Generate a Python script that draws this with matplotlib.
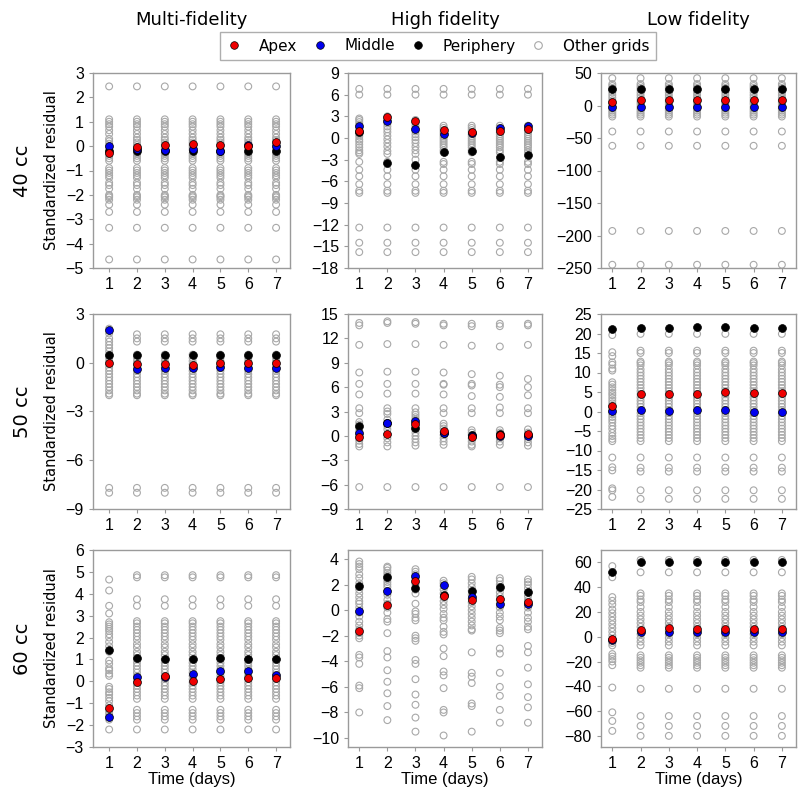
import numpy as np
import matplotlib
matplotlib.use("Agg")
import matplotlib.pyplot as plt
from matplotlib.lines import Line2D

days = [1, 2, 3, 4, 5, 6, 7]
col_titles = ["Multi-fidelity", "High fidelity", "Low fidelity"]
row_labels = ["40 cc", "50 cc", "60 cc"]

# ---------- 40 cc ----------
mf40_other_d1 = [2.45, 1.1, 1.0, 0.9, 0.8, 0.65, 0.5, 0.3, 0.2, 0.1, 0.0, -0.1, -0.2, -0.3, -0.4,
                 -0.5, -0.6, -0.9, -1.0, -1.1, -1.2, -1.3, -1.5, -1.6, -1.75, -2.0, -2.05, -2.1,
                 -2.2, -2.4, -2.7, -3.35, -4.65]
mf40_other = [2.45, 1.1, 1.0, 0.9, 0.8, 0.65, 0.5, 0.35, 0.25, 0.15, 0.05, -0.05, -0.15, -0.3,
              -0.4, -0.5, -0.6, -0.9, -1.0, -1.1, -1.2, -1.3, -1.5, -1.6, -1.75, -2.0, -2.05,
              -2.1, -2.2, -2.4, -2.7, -3.35, -4.65]
mf40_apex = [-0.3, -0.05, 0.05, 0.08, 0.03, 0.02, 0.15]
mf40_middle = [0.0, -0.1, -0.15, -0.1, -0.2, 0.05, 0.0]
mf40_periph = [-0.2, -0.2, -0.2, -0.2, -0.2, -0.2, -0.2]

hf40_other_d1 = [6.8, 6.0, 2.7, 2.5, 2.2, 1.9, 1.5, 1.2, 0.8, 0.5, 0.2, -0.2, -0.5, -0.9, -1.3,
                 -1.7, -2.0, -2.2, -3.3, -4.4, -5.3, -6.4, -7.3, -7.6, -12.4, -14.5, -15.8]
hf40_other_d2 = [6.8, 6.0, 3.0, 2.7, 2.3, 2.0, 1.6, 1.2, 0.8, 0.3, -0.2, -0.7, -1.2, -1.8, -2.2,
                 -3.3, -4.4, -5.3, -6.4, -7.3, -7.6, -12.4, -14.5, -15.8]
hf40_other_d3 = [6.8, 6.0, 2.5, 2.1, 1.7, 1.3, 0.9, 0.5, 0.1, -0.3, -0.7, -1.2, -1.7, -2.2,
                 -3.0, -4.4, -5.3, -6.4, -7.3, -7.6, -12.4, -14.5, -15.8]
hf40_other = [6.8, 6.0, 1.7, 1.4, 1.1, 0.8, 0.5, 0.2, -0.1, -0.4, -0.7, -1.0, -1.3, -1.7, -2.0,
              -3.3, -3.6, -4.4, -5.3, -6.4, -7.3, -7.6, -12.4, -14.5, -15.8]
hf40_apex = [1.0, 2.9, 2.4, 1.1, 0.8, 1.0, 1.3]
hf40_middle = [1.6, 2.4, 1.2, 0.6, 0.7, 1.4, 1.6]
hf40_periph = [0.9, -3.5, -3.8, -2.0, -1.8, -2.6, -2.3]

lf40_other = [42, 33, 30, 27, 24, 20, 16, 12, 8, 5, 2, -2, -5, -8, -11, -14, -17, -40, -62,
              -193, -245]
lf40_apex = [6, 8, 8, 8, 8, 8, 8]
lf40_middle = [-2, -2, -2, -2, -2, -2, -2]
lf40_periph = [26, 26, 26, 26, 26, 26, 26]

# ---------- 50 cc ----------
mf50_other_d1 = [2.1, 1.8, 1.5, 1.3, 1.1, 0.9, 0.7, 0.5, 0.3, 0.1, -0.1, -0.3, -0.5, -0.7, -0.9,
                 -1.1, -1.3, -1.5, -1.7, -1.9, -2.0, -7.7, -8.0]
mf50_other = [1.75, 1.5, 1.3, 0.5, 0.3, 0.1, -0.1, -0.3, -0.5, -0.7, -0.9, -1.1, -1.3, -1.5,
              -1.7, -1.9, -2.0, -7.7, -8.0]
mf50_apex = [0.0, -0.1, -0.1, -0.15, 0.0, 0.0, 0.0]
mf50_middle = [2.0, -0.4, -0.35, -0.3, -0.25, -0.3, -0.3]
mf50_periph = [0.5, 0.5, 0.5, 0.5, 0.5, 0.5, 0.5]

hf50_other_d1 = [13.9, 13.6, 11.2, 7.8, 6.4, 5.1, 3.4, 2.8, 1.7, 1.4, 1.0, 0.6, 0.2, -0.2, -0.6,
                 -1.0, -1.3, -6.3]
hf50_other_d2 = [14.1, 13.9, 11.3, 7.9, 6.4, 5.2, 3.4, 3.0, 2.7, 2.0, 1.6, 1.2, 0.8, 0.2, -0.3,
                 -0.8, -1.3, -6.3]
hf50_other_d3 = [14.0, 13.8, 11.3, 7.9, 6.4, 5.2, 3.4, 2.9, 2.6, 2.3, 2.0, 1.6, 1.2, 0.8, 0.4,
                 0.0, -0.4, -0.8, -1.2, -6.3]
hf50_other_d4 = [13.8, 13.6, 11.2, 7.8, 6.4, 6.3, 5.1, 3.4, 2.8, 1.5, 1.2, 0.9, 0.5, 0.1, -0.3,
                 -0.7, -1.1, -6.3]
hf50_other_d5 = [13.8, 13.5, 11.1, 7.6, 6.4, 6.2, 4.9, 3.4, 2.8, 0.7, 0.4, 0.1, -0.3, -0.7,
                 -1.1, -1.3, -6.3]
hf50_other_d6 = [13.8, 13.5, 11.0, 7.4, 6.3, 6.0, 4.8, 3.5, 2.8, 0.7, 0.4, 0.1, -0.3, -0.7,
                 -1.1, -6.3]
hf50_other_d7 = [13.8, 13.6, 11.2, 7.0, 6.0, 5.0, 3.4, 2.8, 0.8, 0.4, 0.0, -0.4, -0.8, -1.2,
                 -6.3]
hf50_apex = [-0.1, 0.2, 1.5, 0.6, -0.1, 0.1, 0.2]
hf50_middle = [0.4, 1.6, 1.8, 0.4, 0.0, 0.0, 0.0]
hf50_periph = [1.2, 1.6, 1.0, 0.3, 0.1, 0.2, 0.1]

lf50_other_d1 = [19.6, 15.2, 14.2, 12.6, 12.0, 11.0, 10.5, 7.5, 6.9, 6.2, 5.5, 4.8, 4.2, 3.5,
                 2.8, 2.1, 1.4, 0.7, 0.0, -0.7, -1.4, -2.1, -2.8, -3.7, -4.5, -5.5, -6.3, -7.0,
                 -7.6, -11.8, -14.3, -15.1, -19.7, -20.2, -21.9]
lf50_other = [19.9, 15.6, 15.0, 12.8, 12.4, 11.8, 10.8, 10.0, 9.2, 8.4, 7.6, 6.8, 6.0, 5.2, 4.4,
              3.6, 2.8, 2.0, 1.2, 0.4, -0.4, -1.2, -2.0, -2.8, -3.6, -4.4, -5.2, -6.0, -6.8,
              -7.6, -11.8, -14.4, -15.4, -20.2, -22.4]
lf50_apex = [1.5, 4.5, 4.6, 4.5, 4.9, 4.7, 4.7]
lf50_middle = [0.1, 0.3, 0.1, 0.3, 0.3, 0.0, 0.0]
lf50_periph = [21.2, 21.5, 21.3, 21.7, 21.7, 21.5, 21.4]

# ---------- 60 cc ----------
mf60_other_d1 = [4.65, 4.15, 3.45, 3.1, 2.7, 2.6, 2.5, 2.4, 2.3, 2.15, 2.0, 1.8, 1.6, 1.35, 0.95,
                 0.8, 0.6, 0.5, 0.35, 0.25, -0.25, -0.35, -0.5, -0.6, -0.75, -0.9, -1.1, -1.3,
                 -1.4, -1.5, -1.65, -1.75, -2.2]
mf60_other = [4.85, 4.75, 3.75, 3.45, 2.75, 2.65, 2.5, 2.35, 2.2, 2.05, 1.9, 1.7, 1.55, 1.35,
              1.2, 1.0, 0.85, 0.7, 0.55, 0.4, 0.25, 0.1, -0.05, -0.2, -0.35, -0.5, -0.65, -0.8,
              -1.3, -1.45, -1.6, -1.75, -2.2]
mf60_apex = [-1.2, -0.05, 0.25, 0.0, 0.1, 0.15, 0.15]
mf60_middle = [-1.65, 0.2, 0.2, 0.35, 0.45, 0.45, 0.3]
mf60_periph = [1.45, 1.05, 1.03, 1.0, 1.05, 1.0, 1.0]

hf60_other_d1 = [3.8, 3.6, 3.4, 3.2, 2.8, 2.5, 2.1, 1.6, 1.3, 1.0, 0.7, 0.5, 0.2, -0.2, -0.5,
                 -0.9, -1.2, -1.5, -1.8, -2.0, -2.2, -3.5, -3.7, -4.2, -5.9, -6.1, -8.0]
hf60_other_d2 = [3.4, 3.3, 3.1, 2.9, 2.7, 2.4, 2.2, 2.0, 1.8, 1.5, 1.2, 0.8, 0.5, 0.2, -0.2,
                 -0.7, -0.9, -1.8, -3.2, -3.7, -4.7, -5.6, -6.5, -7.5, -8.6]
hf60_other_d3 = [3.2, 3.0, 2.8, 2.5, 2.2, 2.0, 1.6, 1.3, 0.5, -0.1, -0.3, -0.6, -0.8, -2.0, -2.2,
                 -2.4, -3.9, -4.2, -5.4, -6.6, -7.4, -8.4, -9.5]
hf60_other_d4 = [2.3, 2.1, 1.9, 1.6, 1.3, 1.0, 0.7, 0.4, 0.1, -0.3, -0.6, -0.8, -1.3, -1.7, -1.9,
                 -3.0, -3.6, -4.8, -5.1, -6.1, -7.8, -8.0, -9.8]
hf60_other_d5 = [2.6, 2.4, 2.1, 1.8, 1.5, 1.2, 0.9, 0.6, 0.3, 0.0, -0.3, -0.6, -0.9, -1.2, -1.5,
                 -1.6, -3.3, -4.9, -5.2, -5.7, -7.3, -7.5, -9.5]
hf60_other_d6 = [2.5, 2.3, 2.0, 1.7, 1.4, 1.1, 0.8, 0.5, 0.2, -0.2, -0.5, -0.8, -1.4, -1.6, -1.8,
                 -3.0, -3.4, -4.9, -6.0, -6.7, -7.8, -8.8]
hf60_other_d7 = [2.4, 2.2, 2.0, 1.7, 1.4, 1.1, 0.8, 0.5, 0.2, -0.2, -0.6, -0.9, -1.3, -1.5, -2.8,
                 -3.3, -4.5, -5.8, -6.8, -7.6, -8.8]
hf60_apex = [-1.6, 0.4, 2.3, 1.1, 0.8, 0.85, 0.6]
hf60_middle = [-0.05, 1.5, 2.7, 1.95, 1.05, 0.45, 0.5]
hf60_periph = [1.9, 2.6, 1.7, 1.2, 1.5, 1.8, 1.4]

lf60_other_d1 = [57, 48, 32, 29, 26, 22, 19, 16, 13, 10, 7, 4, 1, -2, -5, -7, -14, -16, -18, -20,
                 -23, -41, -61, -68, -76]
lf60_other = [62, 52, 35, 33, 30, 28, 24, 20, 17, 14, 11, 8, 5, 2, -1, -4, -7, -15, -17, -19,
              -21, -23, -25, -42, -64, -72, -80]
lf60_apex = [-2, 5.5, 7, 6.5, 6.5, 6.5, 6.5]
lf60_middle = [-3, 3.5, 3.5, 3.5, 3.5, 3.5, 3.5]
lf60_periph = [52, 60, 60.5, 60.5, 60, 60, 60]

panels = [
    [([mf40_other_d1] + [mf40_other] * 6, mf40_apex, mf40_middle, mf40_periph,
      (-5, 3), np.arange(-5, 4, 1)),
     ([hf40_other_d1, hf40_other_d2, hf40_other_d3] + [hf40_other] * 4,
      hf40_apex, hf40_middle, hf40_periph, (-18, 9), np.arange(-18, 10, 3)),
     ([lf40_other] * 7, lf40_apex, lf40_middle, lf40_periph, (-250, 50),
      np.arange(-250, 51, 50))],
    [([mf50_other_d1] + [mf50_other] * 6, mf50_apex, mf50_middle, mf50_periph,
      (-9, 3), np.arange(-9, 4, 3)),
     ([hf50_other_d1, hf50_other_d2, hf50_other_d3, hf50_other_d4, hf50_other_d5,
       hf50_other_d6, hf50_other_d7], hf50_apex, hf50_middle, hf50_periph,
      (-9, 15), np.arange(-9, 16, 3)),
     ([lf50_other_d1] + [lf50_other] * 6, lf50_apex, lf50_middle, lf50_periph,
      (-25, 25), np.arange(-25, 26, 5))],
    [([mf60_other_d1] + [mf60_other] * 6, mf60_apex, mf60_middle, mf60_periph,
      (-3, 6), np.arange(-3, 7, 1)),
     ([hf60_other_d1, hf60_other_d2, hf60_other_d3, hf60_other_d4, hf60_other_d5,
       hf60_other_d6, hf60_other_d7], hf60_apex, hf60_middle, hf60_periph,
      (-10.7, 4.7), np.arange(-10, 5, 2)),
     ([lf60_other_d1] + [lf60_other] * 6, lf60_apex, lf60_middle, lf60_periph,
      (-89, 70), np.arange(-80, 61, 20))],
]

W, H = 800, 794
fig = plt.figure(figsize=(W / 100, H / 100), dpi=100)

# axes boxes in pixels: (left, right), (top, bottom)
col_px = [(93, 290), (348, 542), (601, 796)]
row_px = [(73, 268), (314, 509), (550, 747)]
col_xlim = [(0.42, 7.5), (0.6, 7.5), (0.6, 7.5)]

tick_font = "Liberation Sans"
spine_col = "#9a9a9a"
gray = "#a8a8a8"

for r in range(3):
    for c in range(3):
        others, apex, middle, periph, ylim, yticks = panels[r][c]
        l, rr = col_px[c]
        t, b = row_px[r]
        ax = fig.add_axes([l / W, 1 - b / H, (rr - l) / W, (b - t) / H])
        for d, vals in zip(days, others):
            ax.scatter([d] * len(vals), vals, s=24, facecolors="none",
                       edgecolors=gray, linewidths=0.8, zorder=2)
        ax.scatter(days, periph, s=32, c="black", edgecolors="black", linewidths=0.5, zorder=3)
        ax.scatter(days, middle, s=32, c="#0000ee", edgecolors="black", linewidths=0.5, zorder=4)
        ax.scatter(days, apex, s=32, c="#ee0000", edgecolors="black", linewidths=0.5, zorder=5)
        ax.set_xlim(*col_xlim[c])
        ax.set_ylim(*ylim)
        ax.set_yticks(yticks)
        ax.set_xticks(days)
        for s in ax.spines.values():
            s.set_color(spine_col)
            s.set_linewidth(1.0)
        ax.tick_params(colors=spine_col, length=3, width=0.8, labelcolor="black",
                       labelsize=11.5)
        for lab in ax.get_xticklabels() + ax.get_yticklabels():
            lab.set_fontfamily(tick_font)
        if r == 2:
            ax.set_xlabel("Time (days)", fontsize=12, fontfamily=tick_font, labelpad=1)
        if c == 0:
            ax.set_ylabel("Standardized residual", fontsize=10.5)
            ax.yaxis.set_label_coords(-0.175, 0.5)

for c, title in enumerate(col_titles):
    l, rr = col_px[c]
    fig.text((l + rr) / 2 / W, 1 - 20 / H, title, ha="center", va="center", fontsize=13)

for r, lab in enumerate(row_labels):
    t, b = row_px[r]
    fig.text(22 / W, 1 - (t + b) / 2 / H, lab, ha="center", va="center",
             rotation=90, fontsize=14)

handles = [
    Line2D([], [], ls="none", marker="o", ms=5.5, mfc="#ee0000", mec="black", mew=0.5),
    Line2D([], [], ls="none", marker="o", ms=5.5, mfc="#0000ee", mec="black", mew=0.5),
    Line2D([], [], ls="none", marker="o", ms=5.5, mfc="black", mec="black", mew=0.5),
    Line2D([], [], ls="none", marker="o", ms=5.5, mfc="none", mec=gray, mew=0.8),
]
leg = fig.legend(handles, ["Apex", "Middle", "Periphery", "Other grids"], ncol=4,
                 loc="center", bbox_to_anchor=(438 / W, 1 - 46 / H), fontsize=11,
                 frameon=True, fancybox=False, edgecolor=spine_col, handlelength=1.0,
                 handletextpad=1.1, columnspacing=1.0, borderpad=0.45)
leg.get_frame().set_linewidth(1.0)

fig.savefig("out.png", dpi=100)
